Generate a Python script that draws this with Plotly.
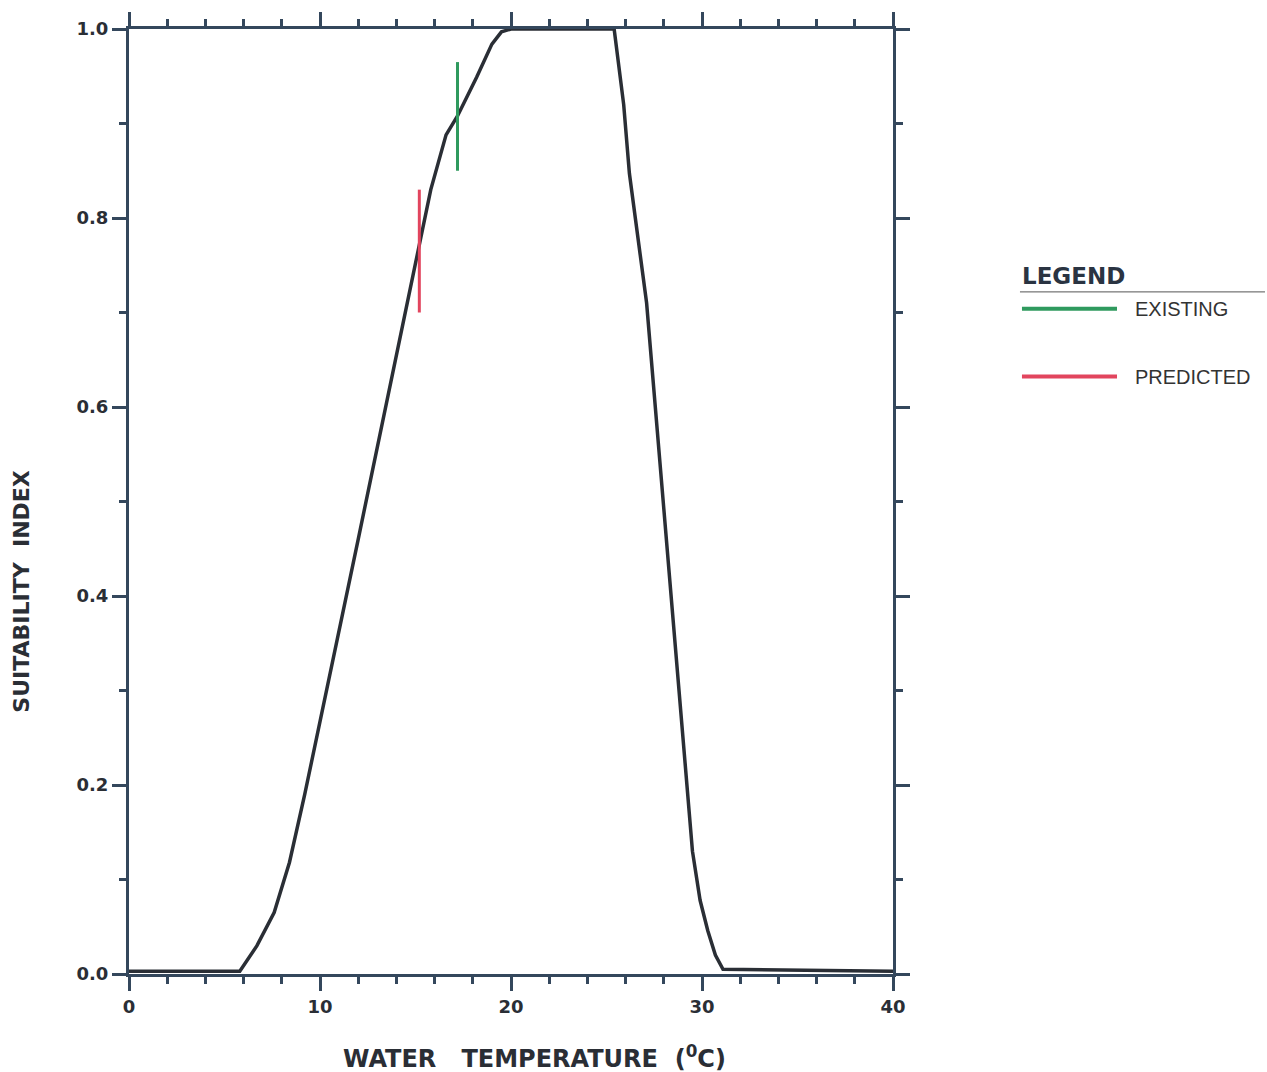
import plotly.graph_objects as go

# Suitability curve (water temperature in °C vs suitability index)
temp = [0, 5.8, 6.7, 7.6, 8.4, 9.2, 12.0, 14.1, 15.2, 15.8, 16.6, 17.2, 18.2, 19.0, 19.5, 20.0,
        25.4, 25.9, 26.2, 27.1, 29.5, 29.9, 30.3, 30.7, 31.1, 40]
suit = [0.003, 0.003, 0.03, 0.065, 0.118, 0.19, 0.46, 0.665, 0.775, 0.83, 0.888, 0.908, 0.949, 0.984, 0.997, 1.0,
        1.0, 0.92, 0.847, 0.71, 0.13, 0.078, 0.046, 0.02, 0.005, 0.003]

# Existing / predicted markers (temperature, low SI, high SI)
existing_t = [17.2, 17.2]
existing_si = [0.85, 0.965]
predicted_t = [15.2, 15.2]
predicted_si = [0.70, 0.83]

x_ticks = [0, 10, 20, 30, 40]
y_ticks = [0.0, 0.2, 0.4, 0.6, 0.8, 1.0]

AX = "#34475c"
CURVE = "#2a2e35"
GREEN = "#2f9a5e"
RED = "#e2455e"
BOLD = "DejaVu Sans, Arial, sans-serif"

fig = go.Figure()
fig.add_trace(go.Scatter(x=temp, y=suit, mode="lines", line=dict(color=CURVE, width=3.5),
                         showlegend=False, hoverinfo="skip"))
fig.add_trace(go.Scatter(x=existing_t, y=existing_si, mode="lines", line=dict(color=GREEN, width=3),
                         name="EXISTING", showlegend=False))
fig.add_trace(go.Scatter(x=predicted_t, y=predicted_si, mode="lines", line=dict(color=RED, width=3),
                         name="PREDICTED", showlegend=False))

tickfont = dict(family=BOLD, size=18, color="#2a2e35", weight="bold")

fig.update_xaxes(range=[0, 40], tickvals=x_ticks, ticktext=[str(v) for v in x_ticks],
                 showline=True, linecolor=AX, linewidth=3, mirror="ticks",
                 ticks="outside", ticklen=14, tickwidth=3, tickcolor=AX,
                 minor=dict(dtick=2, ticks="outside", ticklen=7, tickwidth=3, tickcolor=AX),
                 showgrid=False, zeroline=False, tickfont=tickfont)
fig.update_yaxes(range=[0, 1], tickvals=y_ticks, ticktext=[f"{v:.1f}" for v in y_ticks],
                 showline=True, linecolor=AX, linewidth=3, mirror="ticks",
                 ticks="outside", ticklen=14, tickwidth=3, tickcolor=AX,
                 minor=dict(dtick=0.1, ticks="outside", ticklen=7, tickwidth=3, tickcolor=AX),
                 showgrid=False, zeroline=False, tickfont=tickfont)

annos = [
    dict(text="WATER&nbsp;&nbsp;&nbsp;TEMPERATURE&nbsp;&nbsp;(<sup>0</sup>C)", x=0.531, y=-0.0875,
         xref="paper", yref="paper", showarrow=False, xanchor="center", yanchor="middle",
         font=dict(family=BOLD, size=24, color="#2a2e35", weight="bold")),
    dict(text="SUITABILITY&nbsp;&nbsp;INDEX", x=-0.140, y=0.4046, textangle=-90,
         xref="paper", yref="paper", showarrow=False, xanchor="center", yanchor="middle",
         font=dict(family=BOLD, size=22, color="#2a2e35", weight="bold")),
    dict(text="LEGEND", x=1.1662, y=0.7387, xref="paper", yref="paper", showarrow=False,
         xanchor="left", yanchor="middle",
         font=dict(family=BOLD, size=23, color="#2a3442", weight="bold")),
    dict(text="EXISTING", x=1.3141, y=0.7039, xref="paper", yref="paper", showarrow=False,
         xanchor="left", yanchor="middle",
         font=dict(family="Liberation Sans, Arial, sans-serif", size=20, color="#333")),
    dict(text="PREDICTED", x=1.3141, y=0.6322, xref="paper", yref="paper", showarrow=False,
         xanchor="left", yanchor="middle",
         font=dict(family="Liberation Sans, Arial, sans-serif", size=20, color="#333")),
]
shapes = [
    dict(type="line", xref="paper", yref="paper", x0=1.1662, x1=1.4869, y0=0.7218, y1=0.7218,
         line=dict(color="#555", width=1)),
    dict(type="line", xref="paper", yref="paper", x0=1.1688, x1=1.2932, y0=0.7039, y1=0.7039,
         line=dict(color=GREEN, width=4)),
    dict(type="line", xref="paper", yref="paper", x0=1.1688, x1=1.2932, y0=0.6322, y1=0.6322,
         line=dict(color=RED, width=4)),
]

fig.update_layout(width=1267, height=1072, margin=dict(l=129, r=374, t=25, b=98),
                  paper_bgcolor="white", plot_bgcolor="white",
                  annotations=annos, shapes=shapes, showlegend=False)

fig.write_html("out.html")
